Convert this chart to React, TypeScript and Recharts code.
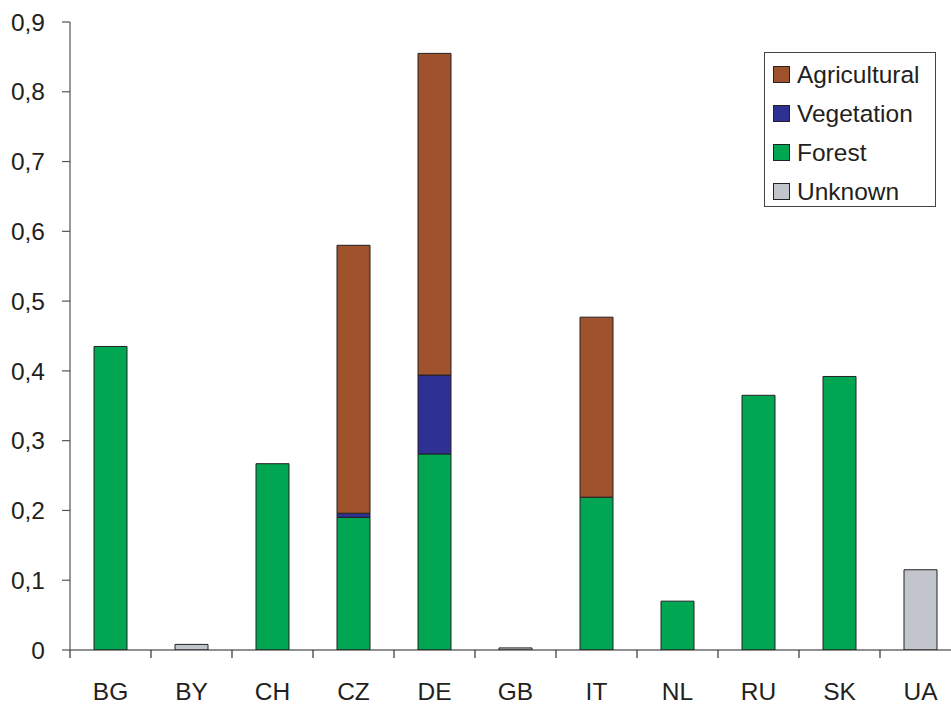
import { BarChart, Bar, XAxis, YAxis } from 'recharts';

const categories = ['BG', 'BY', 'CH', 'CZ', 'DE', 'GB', 'IT', 'NL', 'RU', 'SK', 'UA'];
const forest = [0.435, 0, 0.267, 0.19, 0.281, 0, 0.219, 0.07, 0.365, 0.392, 0];
const vegetation = [0, 0, 0, 0.006, 0.113, 0, 0, 0, 0, 0, 0];
const agricultural = [0, 0, 0, 0.384, 0.461, 0, 0.258, 0, 0, 0, 0];
const unknown = [0, 0.008, 0, 0, 0, 0.003, 0, 0, 0, 0, 0.115];
const yTicks = [0, 0.1, 0.2, 0.3, 0.4, 0.5, 0.6, 0.7, 0.8, 0.9];

const FONT = '"Liberation Sans", Arial, sans-serif';
const TEXT = '#231F20';

const SERIES = [
    { key: 'forest', name: 'Forest', color: '#00A651' },
    { key: 'vegetation', name: 'Vegetation', color: '#2E3192' },
    { key: 'agricultural', name: 'Agricultural', color: '#A0522D' },
    { key: 'unknown', name: 'Unknown', color: '#C2C5CC' },
];
// legend order as in the figure
const LEGEND_ORDER = ['agricultural', 'vegetation', 'forest', 'unknown'];

const data = categories.map((c, i) => ({
    name: c,
    forest: forest[i] || null,
    vegetation: vegetation[i] || null,
    agricultural: agricultural[i] || null,
    unknown: unknown[i] || null,
}));

const HALF_BAND = 40.5;

// category label in the middle, tick mark on the left boundary
const XTick = (props: any) => {
    const { x, y, payload } = props;
    return (
        <g>
            <line x1={x - HALF_BAND} y1={y} x2={x - HALF_BAND} y2={y + 8} stroke="#333" strokeWidth={1.2} />
            <text x={x} y={y + 50} textAnchor="middle" fill={TEXT} fontSize={24.5} fontFamily={FONT}>
                {payload.value}
            </text>
        </g>
    );
};

const formatY = (v: number) => (v === 0 ? '0' : v.toFixed(1).replace('.', ','));

export default function App() {
    return (
        <div style={{ position: 'absolute', left: 0, top: 0, width: 951, height: 704, overflow: 'hidden', background: '#fff' }}>
            <BarChart
                width={970}
                height={704}
                data={data}
                margin={{ top: 22, right: 9, left: 0, bottom: 0 }}
            >
                <XAxis
                    dataKey="name"
                    height={54}
                    tickSize={0}
                    tickMargin={0}
                    tick={<XTick />}
                    axisLine={{ stroke: '#222', strokeWidth: 1.2 }}
                    interval={0}
                />
                <YAxis
                    width={70}
                    domain={[0, 0.9]}
                    ticks={yTicks}
                    tickFormatter={formatY}
                    tickSize={8}
                    tickMargin={17}
                    tick={{ fill: TEXT, fontSize: 24.5, fontFamily: FONT }}
                    tickLine={{ stroke: '#555', strokeWidth: 1.2 }}
                    axisLine={{ stroke: '#555', strokeWidth: 1.2 }}
                    allowDataOverflow
                />
                {SERIES.map(s => (
                    <Bar
                        key={s.key}
                        dataKey={s.key}
                        name={s.name}
                        stackId="a"
                        fill={s.color}
                        stroke="#222"
                        strokeWidth={1}
                        barSize={33}
                        isAnimationActive={false}
                    />
                ))}
            </BarChart>
            <div
                style={{
                    position: 'absolute', left: 764, top: 52, width: 172, height: 155,
                    boxSizing: 'border-box', border: '1px solid #444', paddingTop: 2,
                    fontFamily: FONT, fontSize: 24.5, color: TEXT, background: '#fff',
                }}
            >
                {LEGEND_ORDER.map(k => {
                    const s = SERIES.find(x => x.key === k)!;
                    return (
                        <div key={k} style={{ display: 'flex', alignItems: 'center', height: 39 }}>
                            <span
                                style={{
                                    display: 'inline-block', width: 17, height: 17, marginLeft: 8, marginRight: 7,
                                    background: s.color, border: '1px solid #222', boxSizing: 'border-box',
                                }}
                            />
                            <span>{s.name}</span>
                        </div>
                    );
                })}
            </div>
        </div>
    );
}
